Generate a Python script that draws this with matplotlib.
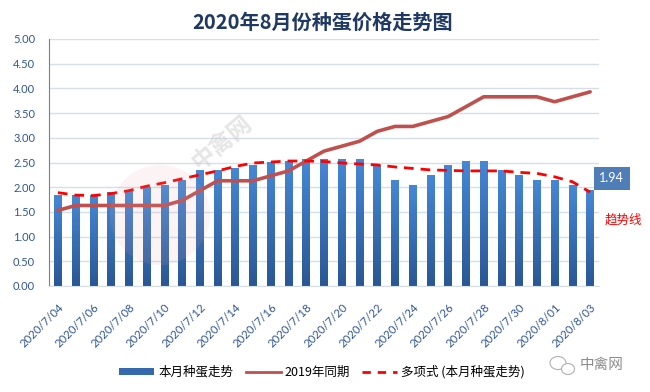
import numpy as np
import matplotlib
matplotlib.use("Agg")
import matplotlib.pyplot as plt
import matplotlib.transforms as mtransforms
from matplotlib.colors import LinearSegmentedColormap
from matplotlib.patches import Patch, Ellipse
from matplotlib.lines import Line2D

plt.rcParams['font.family'] = ['Noto Sans CJK SC', 'DejaVu Sans']

dates = [f"2020/7/{d:02d}" for d in range(4, 32)] + [f"2020/8/{d:02d}" for d in range(1, 4)]
price_2020 = [1.85, 1.85, 1.85, 1.90, 1.95, 2.00, 2.05, 2.15, 2.35, 2.35,
              2.39, 2.45, 2.50, 2.54, 2.58, 2.58, 2.58, 2.58, 2.45, 2.15,
              2.05, 2.25, 2.45, 2.54, 2.54, 2.35, 2.25, 2.15, 2.15, 2.05, 1.94]
price_2019 = [1.53, 1.63, 1.63, 1.63, 1.63, 1.63, 1.63, 1.73, 1.93, 2.13,
              2.13, 2.13, 2.23, 2.33, 2.53, 2.73, 2.83, 2.93, 3.13, 3.23,
              3.23, 3.33, 3.43, 3.63, 3.83, 3.83, 3.83, 3.83, 3.73, 3.83, 3.93]
trend = [1.89, 1.84, 1.83, 1.87, 1.93, 2.02, 2.09, 2.17, 2.25, 2.33,
         2.42, 2.49, 2.51, 2.53, 2.53, 2.52, 2.49, 2.47, 2.45, 2.41,
         2.38, 2.35, 2.34, 2.33, 2.33, 2.33, 2.30, 2.28, 2.21, 2.11, 1.90]
yticks = [0, 0.5, 1.0, 1.5, 2.0, 2.5, 3.0, 3.5, 4.0, 4.5, 5.0]

fig = plt.figure(figsize=(6.5, 3.92), dpi=100)
ax = fig.add_axes([49/650, 1-286/392, 550/650, 247/392])

x = np.arange(len(dates))
cmap = LinearSegmentedColormap.from_list('b', ['#2A5794', '#4688D6'])
bars = ax.bar(x, price_2020, width=0.43, color='none', edgecolor='none', zorder=2)
grad = np.linspace(0, 1, 256).reshape(-1, 1)
for b in bars:
    x0, w, h = b.get_x(), b.get_width(), b.get_height()
    im = ax.imshow(grad, extent=[x0, x0+w, 0, h], origin='lower', cmap=cmap,
                   aspect='auto', zorder=2, interpolation='bilinear')
    im.set_clip_path(b)

ax.plot(x, price_2019, color='#C0504D', lw=2.6, zorder=3, solid_capstyle='round')
ax.plot(x, trend, color='#FF0000', lw=2.0, ls=(0, (3.5, 2.5)), zorder=4)

ax.set_xlim(-0.5, len(dates)-0.5)
ax.set_ylim(0, 5)
ax.set_yticks(yticks)
ax.set_yticklabels([f"{v:.2f}" for v in yticks], color='#2F5597', fontsize=8,
                   family=['Lato'])
ax.set_xticks(x[::2])
ax.set_xticklabels(dates[::2], rotation=45, ha='right', va='top', rotation_mode='anchor',
                   color='#2F5597', fontsize=8.2, family=['Lato'])
shift = mtransforms.ScaledTranslation(4/100, 0, fig.dpi_scale_trans)
for lab in ax.get_xticklabels():
    lab.set_transform(lab.get_transform() + shift)
ax.tick_params(axis='both', length=0)
ax.tick_params(axis='x', pad=11)
ax.tick_params(axis='y', pad=10)
ax.grid(axis='y', color='#D6DEEA', lw=1.0, zorder=0)
ax.set_axisbelow(True)
for s in ['top', 'right']:
    ax.spines[s].set_visible(False)
ax.spines['left'].set_color('#7F7F7F')
ax.spines['bottom'].set_color('#D6DEEA')

# data label
ax.annotate(f"{price_2020[-1]:.2f}", xy=(x[-1], price_2020[-1]), xytext=(15.5, 8.6),
            textcoords='offset points', ha='center', va='center', color='white',
            fontsize=9, family=['Lato'], annotation_clip=False,
            bbox=dict(boxstyle='square,pad=0.45', fc='#4F7DB8', ec='none'))
fig.text(623/650, 1-220/392, '趋势线', color='#FF0000', fontsize=9, ha='center', va='center')

# faint watermark
fig.patches.append(Ellipse((160/650, 1-215/392), 100/650, 100/392, transform=fig.transFigure,
                           fc='#E8A0AA', ec='none', alpha=0.12, zorder=5))
fig.text(222/650, 1-142/392, '中禽网', color='#C8C8C8', fontsize=17, rotation=40,
         ha='center', va='center', alpha=0.45, fontweight='bold', zorder=6)

fig.text(323/650, 1-22/392, '2020年8月份种蛋价格走势图', fontsize=14.5, fontweight='bold',
         color='#1F3864', ha='center', va='center')

handles = [Patch(facecolor='#3568AC', edgecolor='none'),
           Line2D([], [], color='#C0504D', lw=2),
           Line2D([], [], color='#FF0000', lw=2, ls=(0, (3, 2.5)))]
labels = ['本月种蛋走势', '2019年同期', '多项式 (本月种蛋走势)']
fig.legend(handles, labels, loc='center', bbox_to_anchor=(322/650, 1-372/392), ncol=3,
           frameon=False, fontsize=9, handlelength=2.8, columnspacing=1.0, handletextpad=0.3,
           handleheight=0.5)

# bottom-right logo
fig.patches.append(Ellipse((558/650, 1-363/392), 16/650, 13/392, transform=fig.transFigure,
                           fc='none', ec='#B0B0B0', lw=0.8))
fig.patches.append(Ellipse((568/650, 1-369/392), 13/650, 11/392, transform=fig.transFigure,
                           fc='white', ec='#B0B0B0', lw=0.8))
fig.text(602/650, 1-365/392, '中禽网', color='#8C8C8C', fontsize=10.5, ha='center', va='center')

fig.savefig('out.png', dpi=100)
